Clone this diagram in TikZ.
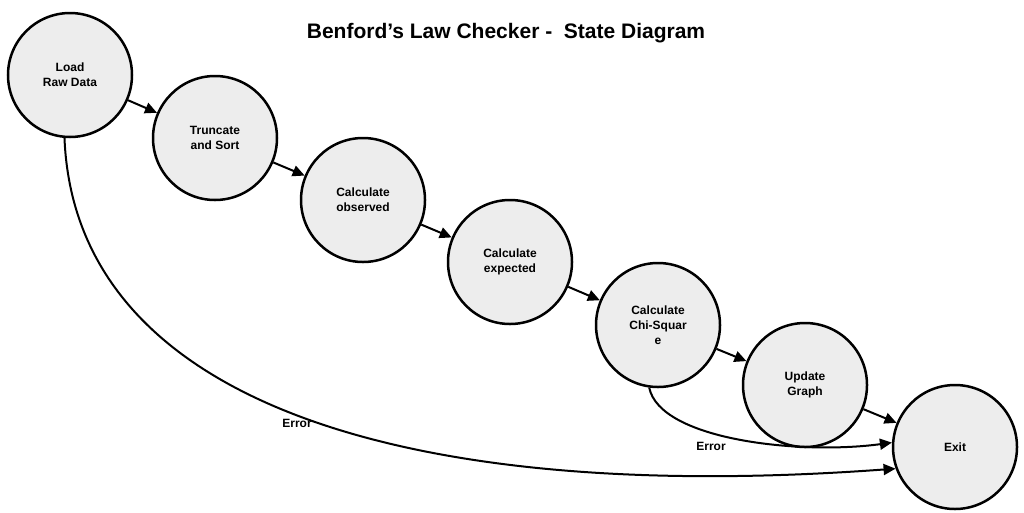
\documentclass[tikz,border=0pt]{standalone}
\usepackage{fontspec}
\setmainfont{Liberation Sans}
\usetikzlibrary{arrows.meta}
\begin{document}
\begin{tikzpicture}[x=1pt,y=-1pt,
 st/.style={circle,draw=black,line width=2.5pt,fill=gray!14,minimum size=124pt,inner sep=0pt,align=center,font=\bfseries\fontsize{12}{15}\selectfont},
 ar/.style={line width=2pt,-{Triangle[length=12pt,width=11pt]}},
 lb/.style={font=\bfseries\fontsize{12}{14}\selectfont}]
\useasboundingbox (0,0) rectangle (1024,512);
\node[font=\bfseries\fontsize{21}{24}\selectfont] (t) at (506,33) {Benford’s Law Checker -\ \ State Diagram};
\node[st] (a) at (70,75) {Load\\Raw Data};
\node[st] (b) at (215,138) {Truncate\\and Sort};
\node[st] (c) at (363,200) {Calculate\\observed};
\node[st] (d) at (510,262) {Calculate\\expected};
\node[st] (e) at (658,325) {Calculate\\Chi-Squar\\e};
\node[st] (f) at (805,385) {Update\\Graph};
\node[st] (g) at (955,447) {Exit};
\draw[ar] (a) -- (b);
\draw[ar] (b) -- (c);
\draw[ar] (c) -- (d);
\draw[ar] (d) -- (e);
\draw[ar] (e) -- (f);
\draw[ar] (f) -- (g);
\draw[ar] (a.265) .. controls (75,400) and (400,505) .. (g.200);
\draw[ar] (e.262) .. controls (660,440) and (800,455) .. (g.176);
\node[lb] (l1) at (297,423) {Error};
\node[lb] (l2) at (711,446) {Error};
\end{tikzpicture}
\end{document}
